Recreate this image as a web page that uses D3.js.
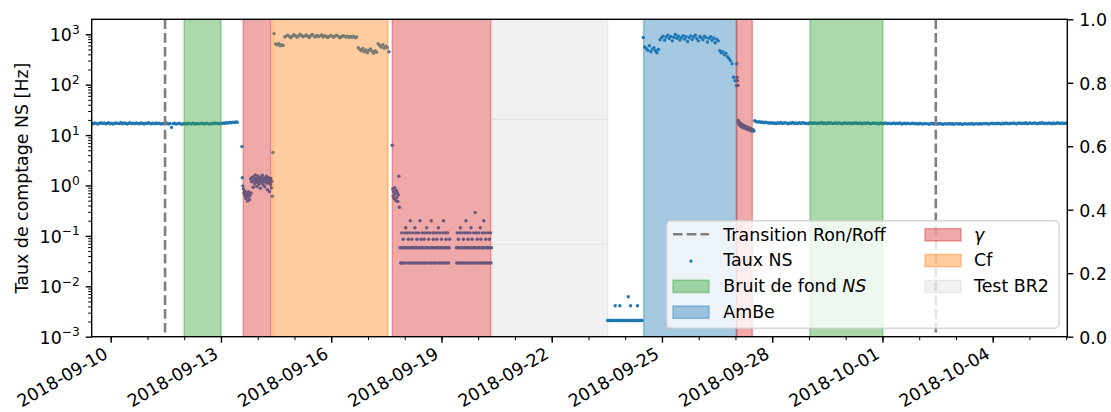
<!DOCTYPE html>
<html>
<head>
<meta charset="utf-8">
<script src="https://cdn.jsdelivr.net/npm/d3@7"></script>
<style>
  body { margin: 0; background: #fff; }
  svg { display: block; }
  text { font-family: "DejaVu Sans", sans-serif; }
</style>
</head>
<body>
<svg id="chart" width="1111" height="412"></svg>
<script>
// ---------------- data ----------------
const xTickLabels = ["2018-09-10", "2018-09-13", "2018-09-16", "2018-09-19", "2018-09-22",
                     "2018-09-25", "2018-09-28", "2018-10-01", "2018-10-04"];
const yTickExponents = [-3, -2, -1, 0, 1, 2, 3];
const rightTickLabels = ["0.0", "0.2", "0.4", "0.6", "0.8", "1.0"];

// NS count rate (Hz), recorded in blocks: start time (UTC) and sampling step (minutes)
const blockStarts = ["2018-09-09T11:40Z", "2018-09-13T13:40Z", "2018-09-14T10:40Z", "2018-09-17T15:50Z",
                     "2018-09-17T21:00Z", "2018-09-19T09:40Z", "2018-09-23T12:30Z", "2018-09-24T11:45Z",
                     "2018-09-27T00:50Z", "2018-09-27T12:30Z"];
const blockSteps = [60, 20, 60, 20, 20, 20, 30, 60, 15, 60];

const rateBaselineBefore = [
  17.2,16.8,17.4,17.0,16.6,17.1,17.5,16.9,17.3,16.7,17.0,17.6,16.8,17.2,16.5,17.1,17.4,16.9,17.0,17.7,16.8,17.3,17.1,16.6,
  17.0,17.5,16.9,17.2,16.7,17.4,17.0,16.8,17.3,17.1,16.6,17.2,16.9,17.5,17.0,16.8,17.1,16.7,17.3,16.9,17.2,16.5,17.0,16.8,
  16.9,17.2,16.6,17.0,14.2,16.8,17.1,16.5,16.9,17.2,16.7,16.4,17.0,16.8,16.6,17.1,16.9,16.5,17.2,16.8,16.6,17.0,16.7,16.9,
  17.1,16.6,16.8,17.2,16.9,16.5,17.0,16.8,17.3,16.9,17.1,16.7,17.2,17.0,17.4,17.1,17.6,17.3,17.8,17.5,18.1,17.7,18.3,18.0];
const rateGammaA = [
  5.9,1.42,0.98,0.85,0.72,0.66,0.78,0.61,0.55,0.70,0.64,0.49,0.58,0.75,0.68,0.52,0.63,1.35,0.71,1.18,
  1.45,1.22,0.92,1.50,1.30,1.08,1.62,1.25,1.38,0.95,1.15,1.55,1.28,1.05,1.42,1.20,0.88,1.33,1.48,1.12,
  1.60,1.25,1.02,1.40,1.18,0.94,1.36,1.22,1.52,1.10,0.82,1.30,1.45,1.15,0.76,1.28,1.05,1.38,0.90,1.20,
  0.61,4.5];
const rateCf = [
  1030,640,610,655,590,620,600,
  880,930,960,900,850,910,980,940,870,920,1000,950,890,930,970,910,860,940,990,920,
  880,950,900,930,970,880,940,910,860,900,950,920,870,930,960,900,850,890,940,910,
  880,920,860,900,870,910,850,880,
  540,500,470,520,450,490,430,480,510,460,420,470,440,
  650,600,560,620,530,580,540,
  450];
const rateGammaB = [6.3,0.85,0.62,0.74,0.55,0.90,0.68,0.50,0.80,0.58,0.72,0.48,0.65,1.53,0.37];
const rateGammaLowA = [
  0.058,0.029,0.058,0.115,0.029,0.058,0.086,0.058,0.029,0.115,0.058,0.145,0.029,0.058,0.115,0.058,0.086,0.029,0.058,0.115,
  0.2,0.058,0.029,0.086,0.058,0.115,0.029,0.058,0.058,0.145,0.029,0.115,0.058,0.086,0.029,0.058,0.115,0.058,0.029,0.2,
  0.058,0.086,0.029,0.115,0.058,0.058,0.029,0.086,0.115,0.058,0.029,0.058,0.145,0.115,0.029,0.058,0.086,0.058,0.115,0.029,
  0.058,0.2,0.029,0.058,0.115,0.086,0.058,0.029,0.115,0.058,0.058,0.029,0.086,0.115,0.058,0.145,0.029,0.058,0.115,0.029,
  0.058,0.086,0.058,0.029,0.115,0.2,0.058,0.029,0.058,0.115,0.086,0.029,0.058,0.115,0.058,0.029,0.058,0.086];
const rateGammaLowB = [
  0.058,0.029,0.115,0.058,0.086,0.029,0.058,0.115,0.145,0.029,0.058,0.058,0.115,0.029,0.086,0.058,0.029,0.115,0.058,0.2,
  0.029,0.058,0.115,0.086,0.058,0.029,0.058,0.115,0.029,0.145,0.058,0.086,0.029,0.058,0.115,0.058,0.029,0.29,0.058,0.115,
  0.029,0.086,0.058,0.058,0.115,0.029,0.058,0.145,0.086,0.029,0.058,0.115,0.058,0.029,0.2,0.058,0.115,0.029,0.086,0.058,
  0.029,0.058,0.115,0.058,0.029,0.086,0.058,0.115,0.029,0.058];
const rateAfterTest = [
  0.0021,0.0021,0.0021,0.0021,0.0021,0.0021,0.0021,0.0021,0.0021,0.0021,0.0041,
  0.0021,0.0021,0.0021,0.0021,0.0021,0.0041,
  0.0021,0.0021,0.0021,0.0021,0.0021,0.0021,0.0021,0.0021,0.0021,0.0021,0.0062,
  0.0021,0.0021,0.0041,
  0.0021,0.0021,0.0021,0.0021,0.0021,0.0021,0.0021,0.0021,0.0041,
  0.0021,0.0021,0.0021,0.0021,0.0021,0.0021];
const rateAmBe = [
  860,
  560,520,480,590,450,510,540,470,430,500,
  780,850,920,760,880,960,820,900,740,870,990,830,910,770,860,940,800,890,720,850,
  930,790,880,960,820,740,900,850,780,920,860,700,830,890,760,840,680,800,740,
  470,430,450,390,420,360,330,300,
  260,140,120,96];
const rateGammaC = [
  260,140,120,96,
  19.5,18.2,17.0,16.2,15.5,17.4,16.0,15.2,14.6,16.5,15.0,14.2,15.8,14.8,13.9,15.3,14.5,13.6,15.0,14.1,13.4,
  14.7,13.8,13.1,14.4,13.5,12.9,14.0,13.2,12.6,13.7,12.9,12.4,13.3,12.7,12.2,13.0,12.5,12.1,12.8,12.3,12.0];
const rateBaselineAfter = [
  19.2,18.6,18.1,18.4,17.9,18.2,17.6,18.0,17.7,17.4,
  17.3,17.6,17.1,17.4,16.9,17.5,17.2,17.8,17.0,17.3,17.6,17.1,16.8,17.4,17.2,17.7,17.0,17.3,16.9,17.5,17.1,17.4,17.6,17.0,
  17.2,16.8,17.5,17.3,17.0,17.6,17.1,16.9,17.4,17.2,17.7,17.0,17.3,16.8,17.5,17.1,17.4,16.9,17.2,17.6,17.0,17.3,17.1,16.8,
  17.2,17.5,16.9,17.1,17.4,16.8,17.3,17.0,17.6,16.9,17.2,17.4,16.7,17.1,17.3,16.9,17.5,17.0,16.8,17.2,17.4,16.9,17.1,16.6,
  17.3,17.0,16.8,17.4,17.1,16.9,17.2,16.7,17.0,17.3,16.8,17.1,16.9,17.4,16.6,17.0,17.2,16.8,17.1,16.9,16.7,17.2,17.0,16.8,
  16.9,16.6,17.1,16.8,16.5,17.0,16.7,16.9,16.4,16.8,17.1,16.6,16.9,16.5,16.8,17.0,16.6,16.3,16.9,16.7,16.5,17.0,16.6,16.8,
  16.4,16.7,16.9,16.5,16.8,16.6,16.3,16.9,16.7,16.5,16.8,16.6,17.0,16.4,16.7,16.9,16.5,16.8,16.6,16.9,16.7,17.0,16.8,16.6,
  16.9,17.1,16.7,17.0,16.8,17.2,16.9,16.6,17.1,16.8,17.3,17.0,16.7,17.2,16.9,17.4,17.0,16.8,17.1,17.3,16.9,17.2,17.0,17.5,16.8,
  17.1,17.3,16.9,17.2,17.4,17.0,16.8,17.3,17.1,17.5,16.9,17.2,17.0,17.4,17.1,16.8,17.3,17.0,17.2,17.5,16.9,17.1,17.3,17.0,17.2,17.4];
const rateBlocks = [rateBaselineBefore, rateGammaA, rateCf, rateGammaB, rateGammaLowA, rateGammaLowB,
                    rateAfterTest, rateAmBe, rateGammaC, rateBaselineAfter];

// Campaign periods (UTC)
const transitionTimes = ["2018-09-11T11:30Z", "2018-10-02T10:50Z"];
const bruitSpans = [["2018-09-12T00:00Z", "2018-09-13T00:00Z"], ["2018-09-29T00:40Z", "2018-10-01T00:15Z"]];
const gammaSpans = [["2018-09-13T14:36Z", "2018-09-14T08:41Z"], ["2018-09-17T15:54Z", "2018-09-20T08:10Z"],
                    ["2018-09-27T00:42Z", "2018-09-27T11:01Z"]];
const cfSpans = [["2018-09-14T09:47Z", "2018-09-17T13:06Z"]];
const amBeSpans = [["2018-09-24T12:04Z", "2018-09-27T00:42Z"]];
const testSpans = [["2018-09-20T09:00Z", "2018-09-23T12:35Z"]];
const testGuideLevels = [20.5, 0.068];

// ---------------- layout ----------------
const svg = d3.select("#chart");
const L = 91.7, T = 19.3, R = 1067.3, B = 336.7;
const FS = 17.4;

const x = d3.scaleUtc()
  .domain([new Date("2018-09-09T11:35Z"), new Date("2018-10-06T00:43Z")])
  .range([L, R]);
const y = d3.scaleLog().domain([1e-3, 1980]).range([B, T]);
const y2 = d3.scaleLinear().domain([0, 1]).range([B, T]);

svg.append("defs").append("clipPath").attr("id", "plot")
  .append("rect").attr("x", L).attr("y", T).attr("width", R - L).attr("height", B - T);

const plot = svg.append("g").attr("clip-path", "url(#plot)");

// rate points
const points = [];
rateBlocks.forEach((vals, i) => {
  const t0 = +new Date(blockStarts[i]);
  vals.forEach((v, k) => points.push({ t: new Date(t0 + k * blockSteps[i] * 60000), v }));
});
plot.append("g").selectAll("circle").data(points).join("circle")
  .attr("cx", d => x(d.t)).attr("cy", d => y(d.v)).attr("r", 1.7)
  .attr("fill", "#1f77b4");

// shaded periods
function drawSpans(spans, color, alpha) {
  plot.append("g").selectAll("rect").data(spans).join("rect")
    .attr("x", d => x(new Date(d[0])))
    .attr("width", d => x(new Date(d[1])) - x(new Date(d[0])))
    .attr("y", T - 2).attr("height", B - T + 4)
    .attr("fill", color).attr("fill-opacity", alpha)
    .attr("stroke", color).attr("stroke-opacity", alpha).attr("stroke-width", 1.5);
}
drawSpans(bruitSpans, "#2ca02c", 0.4);
drawSpans(amBeSpans, "#1f77b4", 0.4);
drawSpans(gammaSpans, "#d62728", 0.4);
drawSpans(cfSpans, "#ff7f0e", 0.4);
drawSpans(testSpans, "#7f7f7f", 0.11);

plot.append("g").selectAll("line").data(testGuideLevels).join("line")
  .attr("x1", x(new Date(testSpans[0][0]))).attr("x2", x(new Date(testSpans[0][1])))
  .attr("y1", d => y(d)).attr("y2", d => y(d))
  .attr("stroke", "#7f7f7f").attr("stroke-opacity", 0.12).attr("stroke-width", 1);

// Ron/Roff transitions
plot.append("g").selectAll("line").data(transitionTimes).join("line")
  .attr("x1", d => x(new Date(d))).attr("x2", d => x(new Date(d)))
  .attr("y1", T).attr("y2", B)
  .attr("stroke", "#7f7f7f").attr("stroke-width", 2.6).attr("stroke-dasharray", "9.6,4.2");

// ---------------- axes ----------------
function styleAxis(g, width) {
  g.select(".domain").remove();
  g.selectAll(".tick line").attr("stroke", "#000").attr("stroke-width", width);
  g.selectAll("text").attr("font-size", FS).attr("fill", "#000");
}

// x minor (daily) ticks
const gxMinor = svg.append("g").attr("transform", `translate(0,${B})`)
  .call(d3.axisBottom(x).ticks(d3.utcDay.every(1)).tickSize(3.5).tickFormat(""));
styleAxis(gxMinor, 1.0);

// x major ticks with rotated labels
const xTickDates = xTickLabels.map(s => new Date(s + "T00:00Z"));
const gx = svg.append("g").attr("transform", `translate(0,${B})`)
  .call(d3.axisBottom(x).tickValues(xTickDates).tickSize(6).tickFormat((d, i) => xTickLabels[i]));
styleAxis(gx, 1.4);
gx.selectAll("text")
  .attr("text-anchor", "end").attr("dy", null).attr("y", 0).attr("x", 0)
  .attr("transform", "translate(-2,20.5) rotate(-30)");

// y minor ticks (log)
const yMinor = [];
for (let e = -3; e <= 3; e++) for (let k = 2; k <= 9; k++) {
  const v = k * Math.pow(10, e);
  if (v <= y.domain()[1]) yMinor.push(v);
}
const gyMinor = svg.append("g").attr("transform", `translate(${L},0)`)
  .call(d3.axisLeft(y).tickValues(yMinor).tickSize(3.5).tickFormat(""));
styleAxis(gyMinor, 1.0);

const yMajor = yTickExponents.map(e => Math.pow(10, e));
const gy = svg.append("g").attr("transform", `translate(${L},0)`)
  .call(d3.axisLeft(y).tickValues(yMajor).tickSize(6).tickPadding(6).tickFormat(""));
styleAxis(gy, 1.4);
gy.selectAll(".tick text").each(function (d, i) {
  const t = d3.select(this).attr("dy", null).attr("y", 6.3).text(null);
  t.append("tspan").text("10");
  const e = yTickExponents[i];
  t.append("tspan").attr("font-size", 12.2).attr("dy", -7.2)
    .text(e < 0 ? "\u2212" + Math.abs(e) : String(e));
});

// right axis
const gy2 = svg.append("g").attr("transform", `translate(${R},0)`)
  .call(d3.axisRight(y2).tickValues(d3.range(rightTickLabels.length).map(i => +rightTickLabels[i]))
    .tickSize(6).tickPadding(6).tickFormat((d, i) => rightTickLabels[i]));
styleAxis(gy2, 1.4);
gy2.selectAll("text").attr("dy", null).attr("y", 6.3);

// spines
svg.append("rect").attr("x", L).attr("y", T).attr("width", R - L).attr("height", B - T)
  .attr("fill", "none").attr("stroke", "#000").attr("stroke-width", 1.4);

// y label
svg.append("text").attr("transform", `translate(28,${(T + B) / 2}) rotate(-90)`)
  .attr("text-anchor", "middle").attr("font-size", FS).text("Taux de comptage NS [Hz]");

// ---------------- legend ----------------
const lg = svg.append("g");
lg.append("rect").attr("x", 666.7).attr("y", 220.7).attr("width", 392.3).attr("height", 107.6)
  .attr("rx", 4).attr("fill", "#fff").attr("fill-opacity", 0.8)
  .attr("stroke", "#cccccc").attr("stroke-opacity", 0.8).attr("stroke-width", 1.4);

const rowY = i => 234.3 + i * 25.8;
const col1 = { hx: 673, tx: 723.3 }, col2 = { hx: 925, tx: 974 };
const hw = 36, hh = 12.3;

function patch(col, row, color, alpha) {
  lg.append("rect").attr("x", col.hx).attr("y", rowY(row) - hh / 2 + 0.5).attr("width", hw).attr("height", hh)
    .attr("fill", color).attr("fill-opacity", alpha)
    .attr("stroke", color).attr("stroke-opacity", alpha).attr("stroke-width", 1.5);
}
function label(col, row, parts) {
  const t = lg.append("text").attr("x", col.tx).attr("y", rowY(row) + 6.3).attr("font-size", FS);
  parts.forEach(p => t.append("tspan").attr("font-style", p[1] ? "italic" : null).text(p[0]));
}

lg.append("line").attr("x1", col1.hx).attr("x2", col1.hx + hw).attr("y1", rowY(0)).attr("y2", rowY(0))
  .attr("stroke", "#7f7f7f").attr("stroke-width", 2.6).attr("stroke-dasharray", "9.6,4.2");
label(col1, 0, [["Transition Ron/Roff"]]);
lg.append("circle").attr("cx", col1.hx + hw / 2).attr("cy", rowY(1) + 1).attr("r", 1.7).attr("fill", "#1f77b4");
label(col1, 1, [["Taux NS"]]);
patch(col1, 2, "#2ca02c", 0.4);
label(col1, 2, [["Bruit de fond "], ["NS", true]]);
patch(col1, 3, "#1f77b4", 0.4);
label(col1, 3, [["AmBe"]]);
patch(col2, 0, "#d62728", 0.4);
label(col2, 0, [["\u03b3", true]]);
patch(col2, 1, "#ff7f0e", 0.4);
label(col2, 1, [["Cf"]]);
patch(col2, 2, "#7f7f7f", 0.11);
label(col2, 2, [["Test BR2"]]);
</script>
</body>
</html>
